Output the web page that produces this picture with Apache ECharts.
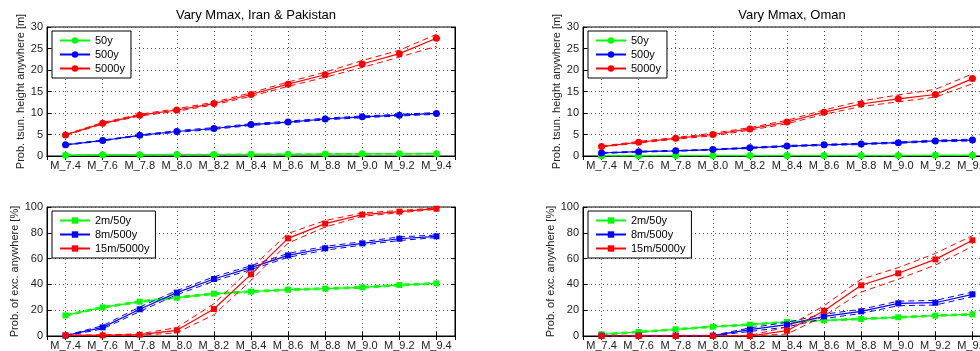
<!DOCTYPE html>
<html>
<head>
<meta charset="utf-8">
<script src="https://cdn.jsdelivr.net/npm/echarts@6/dist/echarts.min.js"></script>
<style>
  html, body { margin: 0; background: #fff; }
  #chart { width: 980px; height: 351px; }
</style>
</head>
<body>
<div id="chart"></div>
<script>
const magnitudes = ['M_7.4', 'M_7.6', 'M_7.8', 'M_8.0', 'M_8.2', 'M_8.4', 'M_8.6', 'M_8.8', 'M_9.0', 'M_9.2', 'M_9.4'];
const heightTicks = [0, 5, 10, 15, 20, 25, 30];
const probTicks = [0, 20, 40, 60, 80, 100];

// Iran & Pakistan - tsunami height [m]
const ipH50 = [0.2, 0.3, 0.3, 0.35, 0.35, 0.4, 0.4, 0.45, 0.5, 0.5, 0.55];
const ipH50Lo = [0.15, 0.25, 0.25, 0.3, 0.3, 0.35, 0.35, 0.4, 0.4, 0.45, 0.45];
const ipH50Hi = [0.25, 0.35, 0.35, 0.4, 0.4, 0.45, 0.5, 0.5, 0.6, 0.6, 0.65];
const ipH500 = [2.6, 3.6, 4.8, 5.7, 6.4, 7.3, 7.9, 8.6, 9.1, 9.5, 9.9];
const ipH500Lo = [2.5, 3.5, 4.7, 5.5, 6.2, 7.1, 7.7, 8.4, 8.9, 9.3, 9.7];
const ipH500Hi = [2.7, 3.7, 4.9, 5.9, 6.6, 7.5, 8.1, 8.8, 9.3, 9.7, 10.1];
const ipH5000 = [4.9, 7.6, 9.5, 10.7, 12.2, 14.3, 16.7, 18.9, 21.4, 23.8, 27.4];
const ipH5000Lo = [4.8, 7.4, 9.3, 10.4, 11.9, 13.9, 16.2, 18.3, 20.6, 23.0, 25.5];
const ipH5000Hi = [5.0, 7.8, 9.7, 11.0, 12.5, 14.7, 17.2, 19.5, 22.2, 24.6, 28.3];

// Oman - tsunami height [m]
const omH50 = [0.05, 0.05, 0.1, 0.1, 0.1, 0.1, 0.1, 0.1, 0.1, 0.15, 0.15];
const omH50Lo = [0.0, 0.0, 0.05, 0.05, 0.05, 0.05, 0.05, 0.05, 0.05, 0.1, 0.1];
const omH50Hi = [0.1, 0.1, 0.15, 0.15, 0.15, 0.15, 0.15, 0.15, 0.15, 0.2, 0.2];
const omH500 = [0.7, 1.0, 1.2, 1.5, 1.9, 2.3, 2.6, 2.8, 3.1, 3.5, 3.7];
const omH500Lo = [0.6, 0.9, 1.1, 1.4, 1.75, 2.15, 2.45, 2.65, 2.95, 3.3, 3.5];
const omH500Hi = [0.8, 1.1, 1.3, 1.6, 2.05, 2.45, 2.75, 2.95, 3.25, 3.7, 3.9];
const omH5000 = [2.2, 3.2, 4.1, 5.0, 6.3, 7.9, 10.2, 12.1, 13.3, 14.3, 18.0];
const omH5000Lo = [2.1, 3.0, 3.9, 4.7, 6.0, 7.5, 9.7, 11.5, 12.6, 13.7, 16.8];
const omH5000Hi = [2.3, 3.4, 4.3, 5.3, 6.6, 8.3, 10.7, 12.8, 14.2, 15.5, 19.1];

// Iran & Pakistan - probability of exceedance [%]
const ipE2 = [16.0, 22.2, 26.6, 29.7, 32.8, 34.4, 35.9, 36.7, 37.7, 39.5, 40.8];
const ipE2Lo = [15.3, 21.5, 25.9, 29.0, 32.1, 33.7, 35.2, 36.0, 37.0, 38.8, 40.1];
const ipE2Hi = [16.7, 22.9, 27.3, 30.4, 33.5, 35.1, 36.6, 37.4, 38.4, 40.2, 41.5];
const ipE8 = [0.3, 6.7, 20.7, 33.6, 44.2, 53.0, 62.5, 68.0, 71.8, 75.4, 77.3];
const ipE8Lo = [0.1, 5.5, 19.0, 32.0, 42.5, 51.5, 61.0, 66.5, 70.5, 74.0, 76.3];
const ipE8Hi = [0.5, 8.0, 22.5, 35.2, 45.8, 54.5, 64.0, 69.5, 73.1, 76.8, 78.3];
const ipE15 = [0.5, 0.5, 1.0, 4.4, 20.9, 47.8, 75.7, 87.1, 94.1, 96.4, 98.7];
const ipE15Lo = [0.2, 0.2, 0.5, 2.5, 16.5, 43.0, 72.0, 84.5, 92.8, 95.5, 98.2];
const ipE15Hi = [0.8, 0.9, 1.7, 6.5, 25.0, 52.5, 79.5, 89.5, 95.4, 97.3, 99.2];

// Oman - probability of exceedance [%]
const omE2 = [1.3, 3.1, 5.2, 7.2, 8.8, 10.9, 12.1, 13.2, 14.5, 15.8, 16.8];
const omE2Lo = [0.7, 2.5, 4.6, 6.6, 8.2, 10.3, 11.5, 12.6, 13.9, 15.2, 16.2];
const omE2Hi = [1.9, 3.7, 5.8, 7.8, 9.4, 11.5, 12.7, 13.8, 15.1, 16.4, 17.4];
const omE8 = [0.3, 0.3, 0.3, 0.3, 4.9, 8.8, 15.2, 19.1, 25.3, 25.8, 32.3];
const omE8Lo = [0.1, 0.1, 0.1, 0.1, 3.5, 7.0, 13.5, 17.5, 23.5, 24.0, 30.5];
const omE8Hi = [0.5, 0.5, 0.5, 0.5, 6.3, 10.6, 16.9, 20.7, 27.0, 27.6, 34.0];
const omE15 = [0, 0, 0, 0, 0, 4.1, 19.6, 39.3, 48.6, 59.4, 74.2];
const omE15Lo = [0, 0, 0, 0, 0, 1.5, 15.5, 34.0, 44.0, 55.0, 69.5];
const omE15Hi = [0, 0, 0, 0, 0.5, 7.0, 23.5, 44.0, 53.0, 64.0, 77.8];

const GREEN = '#00ff00';
const BLUE = '#0000ff';
const RED = '#ff0000';
const FONT = 'Liberation Sans';

const panels = [
  {
    title: 'Vary Mmax, Iran & Pakistan', left: 47, top: 27, yName: 'Prob. tsun. height anywhere [m]',
    ticks: heightTicks, nameGap: 20, symbol: 'circle', symbolSize: 7,
    lines: [
      { name: '50y', color: GREEN, mid: ipH50, lo: ipH50Lo, hi: ipH50Hi },
      { name: '500y', color: BLUE, mid: ipH500, lo: ipH500Lo, hi: ipH500Hi },
      { name: '5000y', color: RED, mid: ipH5000, lo: ipH5000Lo, hi: ipH5000Hi },
    ],
  },
  {
    title: 'Vary Mmax, Oman', left: 583, top: 27, yName: 'Prob. tsun. height anywhere [m]',
    ticks: heightTicks, nameGap: 20, symbol: 'circle', symbolSize: 7,
    lines: [
      { name: '50y', color: GREEN, mid: omH50, lo: omH50Lo, hi: omH50Hi },
      { name: '500y', color: BLUE, mid: omH500, lo: omH500Lo, hi: omH500Hi },
      { name: '5000y', color: RED, mid: omH5000, lo: omH5000Lo, hi: omH5000Hi },
    ],
  },
  {
    title: '', left: 47, top: 207, yName: 'Prob. of exc. anywhere [%]',
    ticks: probTicks, nameGap: 26, symbol: 'rect', symbolSize: 6,
    lines: [
      { name: '2m/50y', color: GREEN, mid: ipE2, lo: ipE2Lo, hi: ipE2Hi },
      { name: '8m/500y', color: BLUE, mid: ipE8, lo: ipE8Lo, hi: ipE8Hi },
      { name: '15m/5000y', color: RED, mid: ipE15, lo: ipE15Lo, hi: ipE15Hi },
    ],
  },
  {
    title: '', left: 583, top: 207, yName: 'Prob. of exc. anywhere [%]',
    ticks: probTicks, nameGap: 26, symbol: 'rect', symbolSize: 6,
    lines: [
      { name: '2m/50y', color: GREEN, mid: omE2, lo: omE2Lo, hi: omE2Hi },
      { name: '8m/500y', color: BLUE, mid: omE8, lo: omE8Lo, hi: omE8Hi },
      { name: '15m/5000y', color: RED, mid: omE15, lo: omE15Lo, hi: omE15Hi },
    ],
  },
];

const PLOT_W = 408;
const PLOT_H = 129;

const toPoints = (values) => values.map((v, i) => [i + 1, v]);

const option = {
  animation: false,
  backgroundColor: '#fff',
  textStyle: { fontFamily: FONT },
  title: [],
  grid: [],
  xAxis: [],
  yAxis: [],
  legend: [],
  series: [],
};

panels.forEach((p, k) => {
  const yMin = p.ticks[0];
  const yMax = p.ticks[p.ticks.length - 1];
  const yStep = p.ticks[1] - p.ticks[0];

  if (p.title) {
    option.title.push({
      text: p.title,
      left: p.left + PLOT_W / 2,
      top: 4,
      textAlign: 'center',
      textStyle: { fontFamily: FONT, fontSize: 13, fontWeight: 'normal', color: '#000' },
    });
  }

  option.grid.push({
    left: p.left, top: p.top, width: PLOT_W, height: PLOT_H,
    outerBoundsMode: 'none', containLabel: false,
    show: true, borderColor: '#000', borderWidth: 1, backgroundColor: '#fff',
  });

  const xBase = {
    type: 'value', gridIndex: k, min: 0.5, max: 11.5,
    minInterval: 1, maxInterval: 1, splitNumber: 11,
    axisLine: { lineStyle: { color: '#000', width: 1 } },
    axisTick: { inside: true, length: 4, lineStyle: { color: '#000' } },
  };
  option.xAxis.push({
    ...xBase, position: 'bottom',
    axisLabel: {
      color: '#222', fontSize: 11, fontFamily: FONT, margin: 4,
      showMinLabel: true, hideOverlap: false,
      formatter: (v) => (Number.isInteger(v) ? magnitudes[v - 1] : ''),
    },
    splitLine: { show: true, lineStyle: { color: '#555', type: [1, 3], width: 1 } },
  });
  option.xAxis.push({
    ...xBase, position: 'top', axisLabel: { show: false }, splitLine: { show: false },
  });

  const yBase = {
    type: 'value', gridIndex: k, min: yMin, max: yMax, interval: yStep,
    axisLine: { show: true, lineStyle: { color: '#000', width: 1 } },
    axisTick: { show: true, inside: true, length: 4, lineStyle: { color: '#000' } },
  };
  option.yAxis.push({
    ...yBase, position: 'left',
    name: p.yName, nameLocation: 'middle', nameGap: p.nameGap,
    nameTextStyle: { color: '#222', fontSize: 11, fontFamily: FONT },
    axisLabel: { color: '#222', fontSize: 11, fontFamily: FONT, margin: 4 },
    splitLine: { show: true, lineStyle: { color: '#555', type: [1, 3], width: 1 } },
  });
  option.yAxis.push({
    ...yBase, position: 'right', axisLabel: { show: false }, splitLine: { show: false },
  });

  option.legend.push({
    left: p.left + 5, top: p.top + 4,
    orient: 'vertical',
    data: p.lines.map((l) => l.name),
    itemWidth: 30, itemHeight: 8, itemGap: 1,
    padding: [3, 6, 3, 7],
    borderColor: '#000', borderWidth: 1, backgroundColor: '#fff',
    textStyle: { fontFamily: FONT, fontSize: 11, color: '#000', lineHeight: 13 },
    selectedMode: false,
  });

  p.lines.forEach((l) => {
    const bound = (values, tag) => ({
      name: `${l.name} ${tag} ${k}`,
      type: 'line', xAxisIndex: 2 * k, yAxisIndex: 2 * k,
      data: toPoints(values), showSymbol: false, silent: true,
      lineStyle: { color: l.color, width: 1, type: [6, 4] },
    });
    option.series.push(bound(l.lo, 'lo'), bound(l.hi, 'hi'));
    option.series.push({
      name: l.name,
      type: 'line', xAxisIndex: 2 * k, yAxisIndex: 2 * k,
      data: toPoints(l.mid),
      symbol: p.symbol, symbolSize: p.symbolSize, showSymbol: true,
      itemStyle: { color: l.color },
      lineStyle: { color: l.color, width: 1.2 },
    });
  });
});

const chart = echarts.init(document.getElementById('chart'), null, { renderer: 'canvas' });
chart.setOption(option);
</script>
</body>
</html>
